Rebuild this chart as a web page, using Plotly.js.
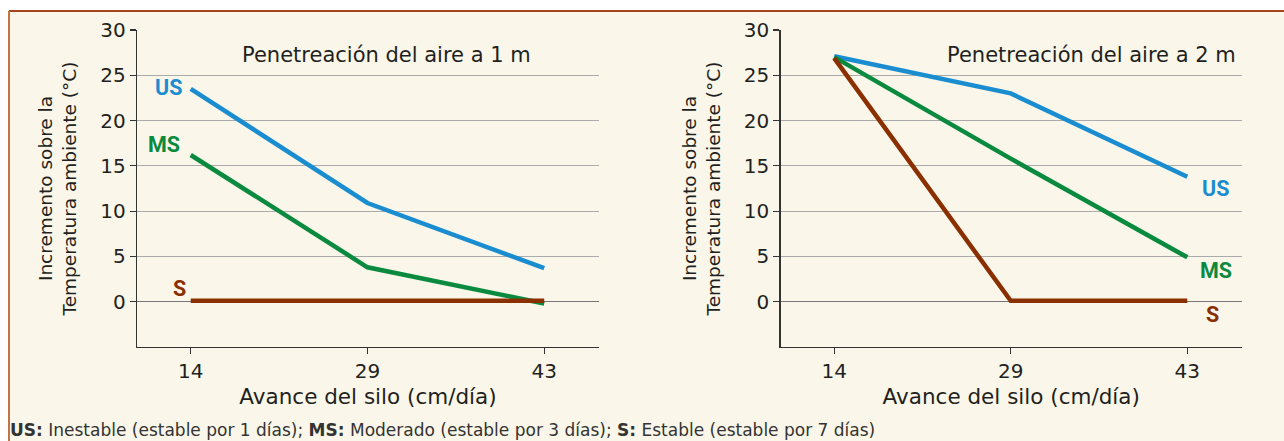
<!DOCTYPE html>
<html>
<head>
<meta charset="utf-8">
<script src="https://cdn.plot.ly/plotly-3.0.1.min.js"></script>
<style>html,body{margin:0;padding:0;background:#fff;}#chart{width:1284px;height:441px;}</style>
</head>
<body>
<div id="chart"></div>
<script>
// ---- data ----
const categories = ['14', '29', '43'];
// Panel 1: penetración del aire a 1 m
const us1 = [23.5, 10.9, 3.7];
const ms1 = [16.2, 3.8, -0.2];
const s1  = [0.1, 0.1, 0.1];
// Panel 2: penetración del aire a 2 m
const us2 = [27.1, 23.0, 13.8];
const ms2 = [27.0, 15.8, 4.9];
const s2  = [26.9, 0.1, 0.1];
const yTicks = [0, 5, 10, 15, 20, 25, 30];
const seriesNames = ['US', 'MS', 'S'];
const panelTitles = ['Penetreación del aire a 1 m', 'Penetreación del aire a 2 m'];
const xTitle = 'Avance del silo (cm/día)';
const yTitle = 'Incremento sobre la<br>Temperatura ambiente (°C)';
const footnote = '<b>US:</b> Inestable (estable por 1 días); <b>MS:</b> Moderado (estable por 3 días); <b>S:</b> Estable (estable por 7 días)';

// ---- style ----
const colors = {US: '#1a8dd0', MS: '#0a8a3f', S: '#8a3000'};
const textColor = '#231f20';
const FONT = 'DejaVu Sans, sans-serif';

// pixel helpers (plot area: x 137..1242, y 30..347)
const L = 137, R = 1242, T = 30, B = 347;
const W = 1284, H = 441;
const px = x => (x - L) / (R - L);
const py = y => (B - y) / (B - T);

function line(x, y, name, xa, ya) {
  return {x: x, y: y, name: name, xaxis: xa, yaxis: ya, type: 'scatter', mode: 'lines',
    line: {color: colors[name], width: 4.5}, hoverinfo: 'skip', showlegend: false};
}
const traces = [
  line(categories, us1, 'US', 'x', 'y'),
  line(categories, ms1, 'MS', 'x', 'y'),
  line(categories, s1, 'S', 'x', 'y'),
  line(categories, us2, 'US', 'x2', 'y2'),
  line(categories, ms2, 'MS', 'x2', 'y2'),
  line(categories, s2, 'S', 'x2', 'y2')
];

function xaxis(domain, anchor) {
  return {
    domain: domain, anchor: anchor, type: 'category', range: [-0.304, 2.31],
    showline: true, linecolor: '#333', linewidth: 1.3,
    ticks: 'outside', ticklen: 6, tickcolor: '#333', tickwidth: 1.2,
    showgrid: false, zeroline: false,
    tickfont: {family: FONT, size: 20, color: textColor},
    title: {text: xTitle, font: {family: FONT, size: 21.5, color: textColor}, standoff: 6},
    fixedrange: true
  };
}
function yaxis(anchor) {
  return {
    domain: [0, 1], anchor: anchor, range: [-5, 30], tickvals: yTicks,
    showline: true, linecolor: '#333', linewidth: 1.3,
    ticks: 'outside', ticklen: 6, tickcolor: '#333', tickwidth: 1.2,
    showgrid: true, gridcolor: '#ababab', gridwidth: 1,
    zeroline: true, zerolinecolor: '#777', zerolinewidth: 1,
    tickfont: {family: FONT, size: 20, color: textColor},
    title: {text: yTitle, font: {family: FONT, size: 18.5, color: textColor}, standoff: 18},
    fixedrange: true
  };
}

const lbl = (text, x, y, xref, yref, color, size) => ({
  text: text, x: x, y: y, xref: xref, yref: yref, showarrow: false,
  xanchor: 'center', yanchor: 'middle',
  font: {family: 'Roboto, sans-serif', size: size || 21.5, color: color, weight: 'bold'}
});

const annotations = [
  {text: panelTitles[0], xref: 'x', yref: 'y', x: 1.11, y: 27.2, showarrow: false,
   xanchor: 'center', yanchor: 'middle', font: {family: FONT, size: 21, color: textColor}},
  {text: panelTitles[1], xref: 'x2', yref: 'y2', x: 2.29, y: 27.2, showarrow: false,
   xanchor: 'right', yanchor: 'middle', font: {family: FONT, size: 21, color: textColor}},
  // series labels, left panel
  lbl('US', -0.128, 23.6, 'x', 'y', colors.US),
  lbl('MS', -0.151, 17.4, 'x', 'y', colors.MS),
  lbl('S', -0.066, 1.5, 'x', 'y', colors.S),
  // series labels, right panel
  lbl('US', 2.162, 12.5, 'x2', 'y2', colors.US),
  lbl('MS', 2.162, 3.5, 'x2', 'y2', colors.MS),
  lbl('S', 2.143, -1.4, 'x2', 'y2', colors.S),
  // footnote
  {text: footnote, xref: 'paper', yref: 'paper', x: px(8), y: py(430), showarrow: false,
   xanchor: 'left', yanchor: 'middle', align: 'left',
   font: {family: FONT, size: 17, color: '#333'}}
];

const shapes = [
  {type: 'rect', xref: 'paper', yref: 'paper', x0: px(9), x1: px(W + 10), y0: py(H + 10), y1: py(11),
   fillcolor: '#faf7ea', line: {width: 0}, layer: 'below'},
  {type: 'line', xref: 'paper', yref: 'paper', x0: px(9), x1: px(W + 10), y0: py(11), y1: py(11),
   line: {color: '#a3441c', width: 2}, layer: 'below'},
  {type: 'line', xref: 'paper', yref: 'paper', x0: px(9), x1: px(9), y0: py(H + 10), y1: py(11),
   line: {color: '#c07448', width: 2}, layer: 'below'}
];

const layout = {
  width: W, height: H,
  margin: {l: L, r: W - R, t: T, b: H - B, pad: 0},
  paper_bgcolor: '#ffffff', plot_bgcolor: 'rgba(0,0,0,0)',
  showlegend: false,
  xaxis: xaxis([0, px(599)], 'y'),
  yaxis: yaxis('x'),
  xaxis2: xaxis([px(780.5), 1], 'y2'),
  yaxis2: yaxis('x2'),
  annotations: annotations,
  shapes: shapes,
  font: {family: FONT, color: textColor}
};

Plotly.newPlot('chart', traces, layout, {displayModeBar: false, staticPlot: true});
</script>
</body>
</html>
